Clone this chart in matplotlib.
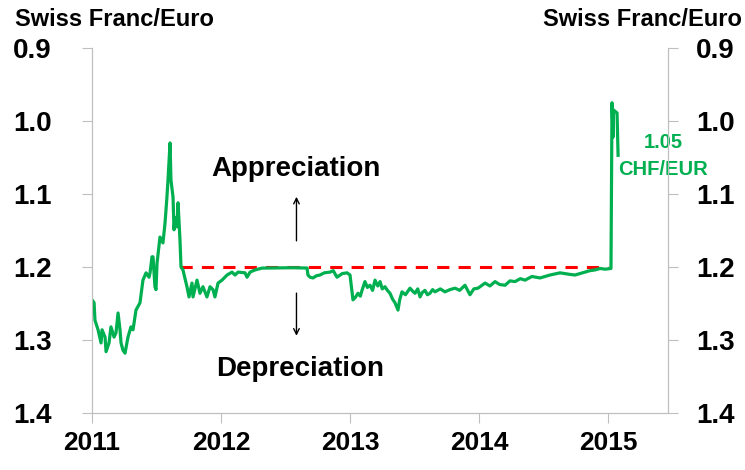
import matplotlib
matplotlib.use("Agg")
import matplotlib.pyplot as plt

# EUR/CHF (Swiss franc per euro), decimal years
years = [2011.000, 2011.016, 2011.023, 2011.047, 2011.070, 2011.078, 2011.101, 2011.109,
         2011.132, 2011.147, 2011.171, 2011.186, 2011.202, 2011.217, 2011.225, 2011.240,
         2011.256, 2011.279, 2011.302, 2011.318, 2011.341, 2011.372, 2011.395, 2011.419,
         2011.442, 2011.450, 2011.465, 2011.473, 2011.488, 2011.496, 2011.504, 2011.527,
         2011.550, 2011.566, 2011.581, 2011.589, 2011.605, 2011.612, 2011.628, 2011.636,
         2011.643, 2011.659, 2011.667, 2011.682, 2011.690, 2011.705, 2011.736, 2011.752,
         2011.775, 2011.783, 2011.814, 2011.837, 2011.860, 2011.891, 2011.915, 2011.938,
         2011.953, 2011.977, 2012.008, 2012.047, 2012.085, 2012.109, 2012.132, 2012.186,
         2012.202, 2012.225, 2012.264, 2012.318, 2012.450, 2012.550, 2012.667, 2012.674,
         2012.690, 2012.713, 2012.740, 2012.767, 2012.800, 2012.845, 2012.870, 2012.899,
         2012.940, 2012.977, 2013.000, 2013.023, 2013.040, 2013.062, 2013.080, 2013.093,
         2013.116, 2013.135, 2013.155, 2013.175, 2013.194, 2013.215, 2013.233, 2013.250,
         2013.271, 2013.290, 2013.310, 2013.330, 2013.349, 2013.372, 2013.385, 2013.403,
         2013.430, 2013.465, 2013.485, 2013.504, 2013.525, 2013.543, 2013.560, 2013.581,
         2013.600, 2013.620, 2013.640, 2013.659, 2013.700, 2013.736, 2013.775, 2013.814,
         2013.850, 2013.891, 2013.930, 2013.960, 2013.992, 2014.047, 2014.085, 2014.124,
         2014.160, 2014.202, 2014.240, 2014.279, 2014.320, 2014.357, 2014.410, 2014.473,
         2014.550, 2014.628, 2014.700, 2014.744, 2014.822, 2014.860, 2014.899, 2014.940,
         2014.977, 2015.023, 2015.031, 2015.039, 2015.043, 2015.070, 2015.078]
chf_eur = [1.245, 1.249, 1.273, 1.286, 1.304, 1.286, 1.296, 1.316,
           1.304, 1.282, 1.296, 1.290, 1.263, 1.286, 1.304, 1.314,
           1.318, 1.296, 1.282, 1.286, 1.259, 1.249, 1.218, 1.208,
           1.214, 1.208, 1.186, 1.186, 1.227, 1.231, 1.195, 1.159,
           1.167, 1.140, 1.104, 1.081, 1.030, 1.081, 1.104, 1.149,
           1.132, 1.145, 1.112, 1.163, 1.200, 1.204, 1.227, 1.241,
           1.222, 1.241, 1.218, 1.236, 1.227, 1.241, 1.227, 1.231,
           1.241, 1.222, 1.218, 1.211, 1.207, 1.211, 1.207, 1.208,
           1.214, 1.207, 1.204, 1.2015, 1.2012, 1.2010, 1.2014, 1.211,
           1.214, 1.215, 1.212, 1.211, 1.208, 1.207, 1.205, 1.214,
           1.209, 1.208, 1.211, 1.245, 1.242, 1.236, 1.240, 1.232,
           1.220, 1.228, 1.225, 1.232, 1.218, 1.226, 1.220, 1.230,
           1.227, 1.232, 1.236, 1.244, 1.249, 1.259, 1.245, 1.234,
           1.238, 1.229, 1.233, 1.236, 1.230, 1.241, 1.235, 1.232,
           1.238, 1.236, 1.231, 1.234, 1.230, 1.234, 1.231, 1.229,
           1.232, 1.225, 1.238, 1.230, 1.229, 1.222, 1.226, 1.220,
           1.224, 1.225, 1.219, 1.220, 1.216, 1.218, 1.213, 1.215,
           1.211, 1.208, 1.210, 1.211, 1.207, 1.205, 1.204, 1.202,
           1.203, 1.202, 0.975, 1.022, 0.985, 0.989, 1.047]

floor_start, floor_end, floor_rate = 2011.68, 2015.0, 1.20
year_ticks = [2011, 2012, 2013, 2014, 2015]
rate_ticks = [0.9, 1.0, 1.1, 1.2, 1.3, 1.4]

green = '#00B050'
grey = '#BFBFBF'
plt.rcParams['font.family'] = ['Liberation Sans', 'DejaVu Sans']

fig = plt.figure(figsize=(7.45, 4.70), dpi=100)
ax = fig.add_axes([92/745, 57/470, 576/745, 365/470])

ax.plot(years, chf_eur, color=green, lw=2.3, zorder=3)
ax.plot([floor_start, floor_end], [floor_rate, floor_rate], color='red',
        lw=2.2, dashes=(4, 3), zorder=2)

ax.set_xlim(2011, 2015.465)
ax.set_ylim(1.4, 0.9)   # inverted: up = stronger franc
ax.set_yticks(rate_ticks)
ax.set_yticklabels([f'{v:.1f}' for v in rate_ticks], fontsize=20, fontweight='bold')
ax.set_xticks(year_ticks)
ax.set_xticklabels([str(y) for y in year_ticks], fontsize=19, fontweight='bold')
ax.tick_params(axis='y', length=7, color=grey, pad=22)
ax.tick_params(axis='x', length=7, color=grey, pad=6)
for s in ['left', 'right', 'bottom']:
    ax.spines[s].set_color(grey)
ax.spines['top'].set_visible(False)

ax2 = ax.twinx()
ax2.set_ylim(1.4, 0.9)
ax2.set_yticks(rate_ticks)
ax2.set_yticklabels([f'{v:.1f}' for v in rate_ticks], fontsize=20, fontweight='bold')
ax2.tick_params(axis='y', length=7, color=grey, pad=13)
for s in ['left', 'right', 'bottom']:
    ax2.spines[s].set_color(grey)
ax2.spines['top'].set_visible(False)

# annotations
ax.text(2012.585, 1.066, 'Appreciation', ha='center', va='center', fontsize=20, fontweight='bold')
ax.text(2012.615, 1.340, 'Depreciation', ha='center', va='center', fontsize=20, fontweight='bold')
ax.annotate('', xy=(2012.585, 1.1), xytext=(2012.585, 1.168),
            arrowprops=dict(arrowstyle='->', color='black', lw=1))
ax.annotate('', xy=(2012.585, 1.298), xytext=(2012.585, 1.232),
            arrowprops=dict(arrowstyle='->', color='black', lw=1))
ax.text(2015.43, 1.029, '1.05', ha='center', va='center', fontsize=14.5,
        fontweight='bold', color=green, zorder=5)
ax.text(2015.43, 1.067, 'CHF/EUR', ha='center', va='center', fontsize=14.5,
        fontweight='bold', color=green, zorder=5)

fig.text(15/745, 1 - 20/470, 'Swiss Franc/Euro', ha='left', va='center',
         fontsize=17, fontweight='bold')
fig.text(742/745, 1 - 20/470, 'Swiss Franc/Euro', ha='right', va='center',
         fontsize=17, fontweight='bold')

fig.savefig('out.png', dpi=100)
